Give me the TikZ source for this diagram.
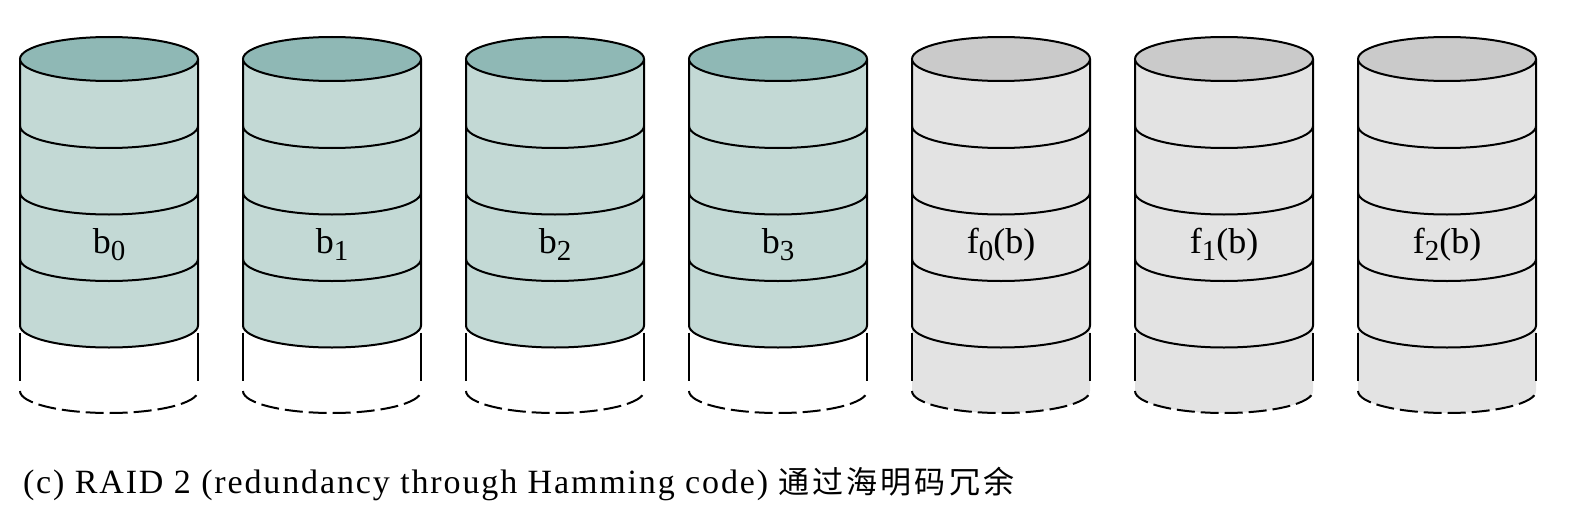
\documentclass[tikz,border=0pt]{standalone}
\usepackage{fontspec}
\setmainfont{Liberation Serif}
\newfontfamily\capfont[LetterSpace=5.5]{Liberation Serif}
\newfontfamily\cjk[LetterSpace=10]{Noto Sans CJK SC}

\definecolor{datawall}{RGB}{195,217,213}
\definecolor{datalid}{RGB}{143,184,181}
\definecolor{paritywall}{RGB}{227,227,227}
\definecolor{paritylid}{RGB}{202,202,202}

\newcommand{\dsub}[1]{\raisebox{-3.5pt}{\fontsize{14.5}{15}\selectfont #1}}

\begin{document}
\begin{tikzpicture}[
    x = 0.5pt,
    y = 0.5pt,
    line width = 1pt,
    disklabel/.style = {anchor=base, inner sep=0pt, font=\fontsize{18}{20}\selectfont},
    sidedash/.style = {dash pattern=on 24pt off 20pt, dash phase=40.5pt},
    ]
    \useasboundingbox (0,0) rectangle (1572,526);
    % disks
    \foreach \cx/\wall/\lid/\spare in {109/datawall/datalid/white,
      332/datawall/datalid/white, 555/datawall/datalid/white,
      778/datawall/datalid/white, 1001/paritywall/paritylid/paritywall,
      1224/paritywall/paritylid/paritywall, 1447/paritywall/paritylid/paritywall}
    {
      % spare strip
      \fill[\spare] (\cx-89, 200.5) -- (\cx-89, 135)
      arc[start angle=180, end angle=360, x radius=89, y radius=22]
      -- (\cx+89, 200.5) -- cycle;
      \draw[dash pattern=on 9pt off 3pt] (\cx-89, 135)
      arc[start angle=180, end angle=360, x radius=89, y radius=22];
      \draw[sidedash] (\cx-89, 200.5) -- (\cx-89, 135);
      \draw[sidedash] (\cx+89, 200.5) -- (\cx+89, 135);
      % body
      \fill[\wall] (\cx-89, 467) -- (\cx-89, 200.5)
      arc[start angle=180, end angle=360, x radius=89, y radius=22]
      -- (\cx+89, 467) -- cycle;
      \draw (\cx-89, 467) -- (\cx-89, 200.5)
      arc[start angle=180, end angle=360, x radius=89, y radius=22]
      -- (\cx+89, 467);
      \foreach \y in {400, 333.5, 267}
      \draw (\cx-89, \y) arc[start angle=180, end angle=360, x radius=89, y radius=22];
      % lid
      \draw[fill=\lid] (\cx, 467) ellipse[x radius=89, y radius=22];
    }
    % labels
    \foreach \cx/\name/\txt in {109/b0/b\dsub{0}, 332/b1/b\dsub{1},
      555/b2/b\dsub{2}, 778/b3/b\dsub{3}, 1001/f0/f\dsub{0}(b),
      1224/f1/f\dsub{1}(b), 1447/f2/f\dsub{2}(b)}
    \node[disklabel] (\name) at (\cx, 273) {\txt};
    % caption
    \node[anchor=base west, inner sep=0pt] (caption) at (22, 33)
    {\fontsize{17}{20}\selectfont\capfont (c) RAID 2 (redundancy through Hamming code) {\cjk\fontsize{15.5}{20}\selectfont 通过海明码冗余}};
\end{tikzpicture}
\end{document}
